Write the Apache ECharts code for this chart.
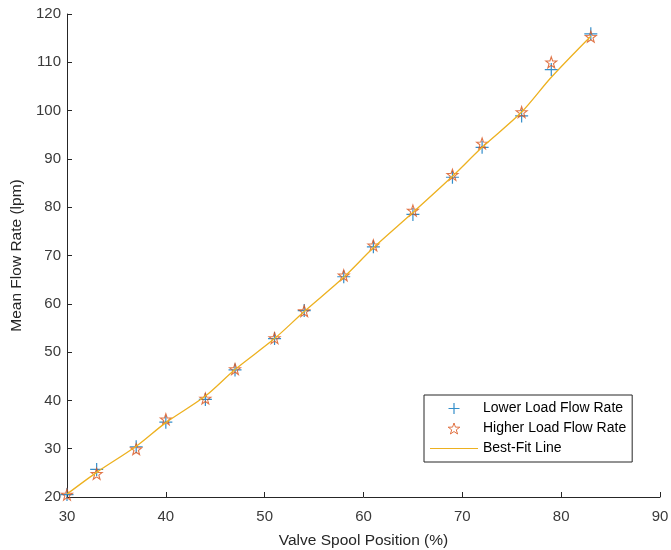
<!DOCTYPE html>
<html>
<head>
<meta charset="utf-8">
<script src="https://cdn.jsdelivr.net/npm/echarts@6/dist/echarts.min.js"></script>
<style>html,body{margin:0;padding:0;background:#fff;}#c{width:671px;height:550px;}</style>
</head>
<body>
<div id="c"></div>
<script>
var positions = [30, 33, 37, 40, 44, 47, 51, 54, 58, 61, 65, 69, 72, 76, 79, 83];
var lowerLoad = [20.5, 25.7, 30.4, 35.5, 40.2, 46.3, 52.8, 58.6, 65.6, 71.8, 78.5, 86.2, 92.4, 98.9, 108.5, 115.9];
var higherLoad = [20.5, 24.8, 29.9, 36.1, 40.4, 46.5, 52.9, 58.5, 65.9, 72.1, 79.3, 86.7, 93.2, 99.7, 110.0, 115.3];
var bestFit = [20.6, 25.1, 30.5, 35.4, 40.9, 46.4, 52.8, 58.4, 65.5, 71.6, 78.9, 86.4, 92.4, 99.7, 106.9, 115.4];
var xTicks = [30, 40, 50, 60, 70, 80, 90];
var yTicks = [20, 30, 40, 50, 60, 70, 80, 90, 100, 110, 120];

function pairs(xs, ys) { return xs.map(function (x, i) { return [x, ys[i]]; }); }

var plusPath = 'path://M0,-1L0,1M-1,0L1,0';
var starPath = 'path://M0,-1L0.235,-0.324L0.951,-0.309L0.380,0.124L0.588,0.809L0,0.4L-0.588,0.809L-0.380,0.124L-0.951,-0.309L-0.235,-0.324Z';
var linePath = 'path://M0,0L48,0L48,1.2L0,1.2Z';

var font = 'Liberation Sans, Arial, sans-serif';
var chart = echarts.init(document.getElementById('c'), null, {renderer: 'canvas'});
chart.setOption({
  animation: false,
  backgroundColor: '#ffffff',
  grid: {left: 67, right: 11, top: 14, bottom: 53, containLabel: false, outerBoundsMode: 'none'},
  xAxis: {
    type: 'value', min: xTicks[0], max: xTicks[xTicks.length - 1], interval: 10,
    name: 'Valve Spool Position (%)', nameLocation: 'middle', nameGap: 36,
    nameTextStyle: {fontFamily: font, fontSize: 15.5, color: '#262626'},
    axisLine: {show: true, lineStyle: {color: '#262626', width: 1}},
    axisTick: {show: true, inside: true, length: 5, lineStyle: {color: '#262626'}},
    axisLabel: {fontFamily: font, fontSize: 15, color: '#3a3a3a', margin: 12},
    splitLine: {show: false}
  },
  yAxis: {
    type: 'value', min: yTicks[0], max: yTicks[yTicks.length - 1], interval: 10,
    name: 'Mean Flow Rate (lpm)', nameLocation: 'middle', nameGap: 37,
    nameTextStyle: {fontFamily: font, fontSize: 15.5, color: '#262626'},
    axisLine: {show: true, lineStyle: {color: '#262626', width: 1}},
    axisTick: {show: true, inside: true, length: 5, lineStyle: {color: '#262626'}},
    axisLabel: {fontFamily: font, fontSize: 15, color: '#3a3a3a', margin: 6},
    splitLine: {show: false}
  },
  legend: {
    orient: 'vertical', left: 424, top: 395,
    backgroundColor: '#fff', borderColor: '#262626', borderWidth: 1,
    padding: [6, 6, 6, 6], itemGap: 5, itemWidth: 48, itemHeight: 11,
    textStyle: {fontFamily: font, fontSize: 14, lineHeight: 15, color: '#000', padding: [0, 0, 0, 0]},
    data: [
      {name: 'Lower Load Flow Rate', icon: plusPath,
        itemStyle: {color: 'rgba(0,0,0,0)', borderColor: '#0072BD', borderWidth: 1.2}},
      {name: 'Higher Load Flow Rate', icon: starPath,
        itemStyle: {color: 'rgba(0,0,0,0)', borderColor: '#D95319', borderWidth: 1}},
      {name: 'Best-Fit Line', icon: linePath,
        itemStyle: {color: '#EDB120', borderWidth: 0}}
    ]
  },
  series: [
    {
      name: 'Lower Load Flow Rate', type: 'scatter', data: pairs(positions, lowerLoad),
      symbol: plusPath, symbolSize: 13,
      itemStyle: {color: 'rgba(0,0,0,0)', borderColor: '#0072BD', borderWidth: 1.2}
    },
    {
      name: 'Higher Load Flow Rate', type: 'scatter', data: pairs(positions, higherLoad),
      symbol: starPath, symbolSize: 11,
      itemStyle: {color: 'rgba(0,0,0,0)', borderColor: '#D95319', borderWidth: 1.1}
    },
    {
      name: 'Best-Fit Line', type: 'line', data: pairs(positions, bestFit),
      symbol: 'none', showSymbol: false, smooth: 0.3,
      lineStyle: {color: '#EDB120', width: 1.3},
      itemStyle: {color: '#EDB120'}
    }
  ]
});
</script>
</body>
</html>
